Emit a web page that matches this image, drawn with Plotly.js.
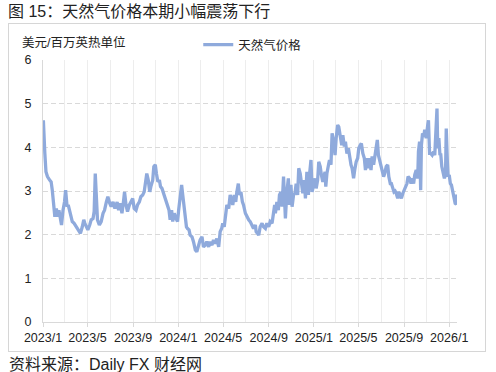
<!DOCTYPE html>
<html>
<head>
<meta charset="utf-8">
<script src="https://cdn.plot.ly/plotly-3.0.1.min.js"></script>
<style>
html,body{margin:0;padding:0;background:#fff;}
#wrap{position:relative;width:496px;height:372px;}
#chart{width:496px;height:372px;}
#frame{position:absolute;left:8px;top:23px;width:478px;height:329px;border:1px solid #D6D6D6;box-sizing:border-box;pointer-events:none;}
</style>
</head>
<body>
<div id="wrap"><div id="chart"></div><div id="frame"></div></div>
<script>
const titleText = '图 15：天然气价格本期小幅震荡下行';
const unitLabel = '美元/百万英热单位';
const sourceText = '资料来源：Daily FX 财经网';
const seriesName = '天然气价格';

const tickVals = ['2023-01-01','2023-05-01','2023-09-01','2024-01-01','2024-05-01','2024-09-01','2025-01-01','2025-05-01','2025-09-01','2026-01-01'];
const tickText = ['2023/1','2023/5','2023/9','2024/1','2024/5','2024/9','2025/1','2025/5','2025/9','2026/1'];

const dates = [
'2023-01-02','2023-01-04','2023-01-06','2023-01-09','2023-01-13','2023-01-19','2023-01-23','2023-01-26','2023-01-30',
'2023-02-02','2023-02-06','2023-02-10','2023-02-13','2023-02-17','2023-02-20','2023-02-24','2023-02-28',
'2023-03-03','2023-03-07','2023-03-10','2023-03-14','2023-03-17','2023-03-21','2023-03-26',
'2023-04-01','2023-04-06','2023-04-12','2023-04-17','2023-04-21','2023-04-24','2023-04-28',
'2023-05-02','2023-05-07','2023-05-11','2023-05-16','2023-05-19','2023-05-22','2023-05-25','2023-05-28',
'2023-06-02','2023-06-07','2023-06-12','2023-06-16','2023-06-21','2023-06-25','2023-06-30',
'2023-07-04','2023-07-09','2023-07-14','2023-07-20','2023-07-24','2023-07-28',
'2023-08-02','2023-08-06','2023-08-09','2023-08-13','2023-08-17','2023-08-22','2023-08-26','2023-08-31',
'2023-09-04','2023-09-09','2023-09-13','2023-09-18','2023-09-22','2023-09-27',
'2023-10-01','2023-10-05','2023-10-08','2023-10-12','2023-10-16','2023-10-19','2023-10-24','2023-10-27','2023-10-31',
'2023-11-03','2023-11-07','2023-11-11','2023-11-14','2023-11-18','2023-11-22','2023-11-26','2023-11-30',
'2023-12-03','2023-12-07','2023-12-10','2023-12-14','2023-12-17','2023-12-21','2023-12-26','2023-12-30',
'2024-01-02','2024-01-06','2024-01-10','2024-01-13','2024-01-17','2024-01-20','2024-01-23','2024-01-26','2024-01-30',
'2024-02-02','2024-02-07','2024-02-11','2024-02-16','2024-02-20','2024-02-25','2024-02-29',
'2024-03-05','2024-03-09','2024-03-14','2024-03-18','2024-03-23','2024-03-27',
'2024-04-01','2024-04-05','2024-04-10','2024-04-14','2024-04-19','2024-04-23','2024-04-27','2024-04-30',
'2024-05-04','2024-05-08','2024-05-11','2024-05-16','2024-05-20','2024-05-24','2024-05-27','2024-05-31',
'2024-06-04','2024-06-07','2024-06-11','2024-06-14','2024-06-18','2024-06-22','2024-06-25','2024-06-30',
'2024-07-04','2024-07-09','2024-07-13','2024-07-18','2024-07-22','2024-07-27','2024-07-29',
'2024-08-05','2024-08-09','2024-08-14','2024-08-18','2024-08-23','2024-08-27',
'2024-09-01','2024-09-05','2024-09-10','2024-09-14','2024-09-17','2024-09-19','2024-09-23','2024-09-27','2024-09-30',
'2024-10-04','2024-10-07','2024-10-11','2024-10-14','2024-10-16','2024-10-20','2024-10-24','2024-10-27','2024-10-31',
'2024-11-03','2024-11-07','2024-11-11','2024-11-14','2024-11-18','2024-11-21','2024-11-25','2024-11-29',
'2024-12-02','2024-12-06','2024-12-09','2024-12-13','2024-12-17','2024-12-20','2024-12-24','2024-12-27','2024-12-31',
'2025-01-04','2025-01-07','2025-01-11','2025-01-14','2025-01-18','2025-01-21','2025-01-25','2025-01-29','2025-01-31',
'2025-02-02','2025-02-05','2025-02-10','2025-02-12','2025-02-16','2025-02-19','2025-02-23','2025-02-27',
'2025-03-02','2025-03-06','2025-03-09','2025-03-13','2025-03-17','2025-03-20','2025-03-24','2025-03-27','2025-03-31',
'2025-04-04','2025-04-07','2025-04-11','2025-04-14','2025-04-18','2025-04-21','2025-04-25','2025-04-29',
'2025-05-02','2025-05-06','2025-05-09','2025-05-13','2025-05-17','2025-05-20','2025-05-24','2025-05-27','2025-05-31',
'2025-06-04','2025-06-07','2025-06-11','2025-06-15','2025-06-18','2025-06-21','2025-06-24','2025-06-27',
'2025-07-01','2025-07-04','2025-07-08','2025-07-11','2025-07-15','2025-07-19','2025-07-22','2025-07-26','2025-07-29',
'2025-08-02','2025-08-05','2025-08-08','2025-08-11','2025-08-15','2025-08-18','2025-08-22','2025-08-25','2025-08-29',
'2025-09-02','2025-09-05','2025-09-09','2025-09-12','2025-09-16','2025-09-20','2025-09-23','2025-09-27','2025-09-30',
'2025-10-04','2025-10-08','2025-10-10','2025-10-13','2025-10-16','2025-10-18','2025-10-21','2025-10-24','2025-10-27','2025-10-31',
'2025-11-04','2025-11-06','2025-11-09','2025-11-12','2025-11-16','2025-11-20','2025-11-23','2025-11-26','2025-11-29',
'2025-12-01','2025-12-04','2025-12-07','2025-12-09','2025-12-12','2025-12-15','2025-12-19','2025-12-22','2025-12-24','2025-12-27','2025-12-29',
'2026-01-01','2026-01-04','2026-01-07','2026-01-11','2026-01-14','2026-01-17','2026-01-20','2026-01-22'
];

const prices = [
4.62,3.90,3.86,3.44,3.33,3.25,3.21,3.02,2.75,
2.41,2.60,2.41,2.56,2.41,2.22,2.56,2.75,
3.02,2.64,2.68,2.53,2.37,2.30,2.26,
2.18,2.11,2.03,2.18,2.34,2.26,2.18,
2.11,2.22,2.34,2.37,2.53,3.40,2.75,2.34,
2.22,2.30,2.49,2.56,2.75,2.87,2.72,
2.64,2.75,2.60,2.75,2.56,2.72,
2.49,2.75,2.98,2.68,2.53,2.68,2.75,2.83,
2.60,2.56,2.68,2.75,2.87,2.91,
2.98,3.33,3.40,3.25,2.98,3.10,3.25,3.56,3.60,
3.40,3.21,3.25,3.10,3.06,2.95,2.87,2.75,
2.68,2.56,2.34,2.56,2.30,2.49,2.37,2.30,
2.56,2.79,3.14,2.91,2.60,2.40,2.18,2.14,2.11,
1.99,1.95,1.84,1.65,1.61,1.76,1.88,
1.95,1.72,1.76,1.84,1.72,1.84,
1.76,1.88,1.80,1.91,1.72,2.07,2.14,2.26,
2.18,2.45,2.68,2.60,2.91,2.79,2.68,2.91,
2.75,2.98,3.17,2.91,2.98,2.75,2.68,2.49,
2.41,2.34,2.30,2.18,2.14,2.22,2.07,
1.99,2.18,2.26,2.18,2.14,2.26,
2.18,2.30,2.26,2.53,2.68,2.49,2.75,2.56,2.91,
2.98,2.64,3.33,2.91,2.37,2.98,3.29,2.68,3.14,
2.64,2.91,2.95,3.17,2.91,3.52,3.40,3.14,
2.95,3.25,2.83,3.44,2.91,3.37,3.71,2.98,3.10,
3.29,3.06,3.25,3.67,3.56,3.37,3.21,3.37,3.44,
3.10,3.40,3.63,3.71,3.60,4.32,4.13,3.82,
4.21,4.51,4.47,4.21,4.05,4.28,4.02,4.13,3.86,
3.98,3.79,3.60,3.52,3.29,3.48,3.67,3.75,
3.98,4.05,4.09,3.86,3.75,3.48,3.75,3.52,3.75,
3.48,3.79,3.60,3.79,3.98,4.17,3.82,3.71,
3.52,3.48,3.33,3.40,3.56,3.60,3.33,3.17,3.17,
3.06,2.98,3.00,2.95,2.83,2.98,2.91,2.83,2.95,
3.02,3.06,3.17,3.33,3.29,3.17,3.29,3.17,3.37,
3.48,3.29,3.90,4.13,3.02,4.05,4.32,4.24,4.40,4.21,
4.51,4.62,3.86,3.86,3.82,3.90,3.82,4.36,4.89,
3.98,4.21,3.82,3.86,3.56,3.40,3.29,3.37,4.43,3.67,3.33,
3.37,3.17,3.14,2.98,2.85,2.72,2.70,2.92
];

const FONT = '"Liberation Sans", "Noto Sans CJK SC", Arial, sans-serif';

const trace = {
  x: dates, y: prices, type: 'scatter', mode: 'lines', name: seriesName,
  line: {color: '#8FAADC', width: 3.3}
};

const layout = {
  width: 496, height: 372,
  margin: {l: 43, r: 39, t: 60, b: 50},
  paper_bgcolor: '#ffffff', plot_bgcolor: '#ffffff',
  font: {family: FONT, size: 12.5, color: '#222'},
  title: {text: titleText, font: {family: FONT, size: 16, color: '#222'},
    x: 8/496, xref: 'container', xanchor: 'left', y: 1 - 11/372, yref: 'container', yanchor: 'middle'},
  showlegend: true,
  legend: {orientation: 'h', x: 0.375, y: 1.057, xanchor: 'left', yanchor: 'middle',
    font: {family: FONT, size: 12.5, color: '#222'}, bgcolor: 'rgba(0,0,0,0)'},
  xaxis: {
    type: 'date', range: ['2023-01-01', '2026-01-22'],
    tickmode: 'array', tickvals: tickVals, ticktext: tickText,
    showline: true, linecolor: '#D9D9D9', linewidth: 1,
    ticks: 'outside', ticklen: 4, tickcolor: '#D9D9D9',
    showgrid: true, gridcolor: '#EDEDED', zeroline: false,
    minor: {tickmode: 'linear', tick0: '2023-01-01', dtick: 'M2', showgrid: true, gridcolor: '#EDEDED', ticks: ''},
    tickfont: {family: FONT, size: 12.5, color: '#222'}
  },
  yaxis: {
    range: [0, 6], tickmode: 'linear', tick0: 0, dtick: 1,
    showline: true, linecolor: '#D9D9D9', linewidth: 1,
    showgrid: true, gridcolor: '#D9D9D9', griddash: '5px,3px', zeroline: false,
    ticks: '', ticklabelstandoff: 8,
    tickfont: {family: FONT, size: 12.5, color: '#222'}
  },
  annotations: [
    {text: unitLabel, xref: 'paper', yref: 'paper', x: (20 - 43)/414, y: 1 + (60 - 42)/262,
      xanchor: 'left', yanchor: 'middle', showarrow: false, font: {family: FONT, size: 12.5, color: '#222'}},
    {text: sourceText, xref: 'paper', yref: 'paper', x: (7 - 43)/414, y: -(364 - 322)/262,
      xanchor: 'left', yanchor: 'middle', showarrow: false, font: {family: FONT, size: 16, color: '#222'}}
  ]
};

Plotly.newPlot('chart', [trace], layout, {staticPlot: true, displayModeBar: false});
</script>
</body>
</html>
